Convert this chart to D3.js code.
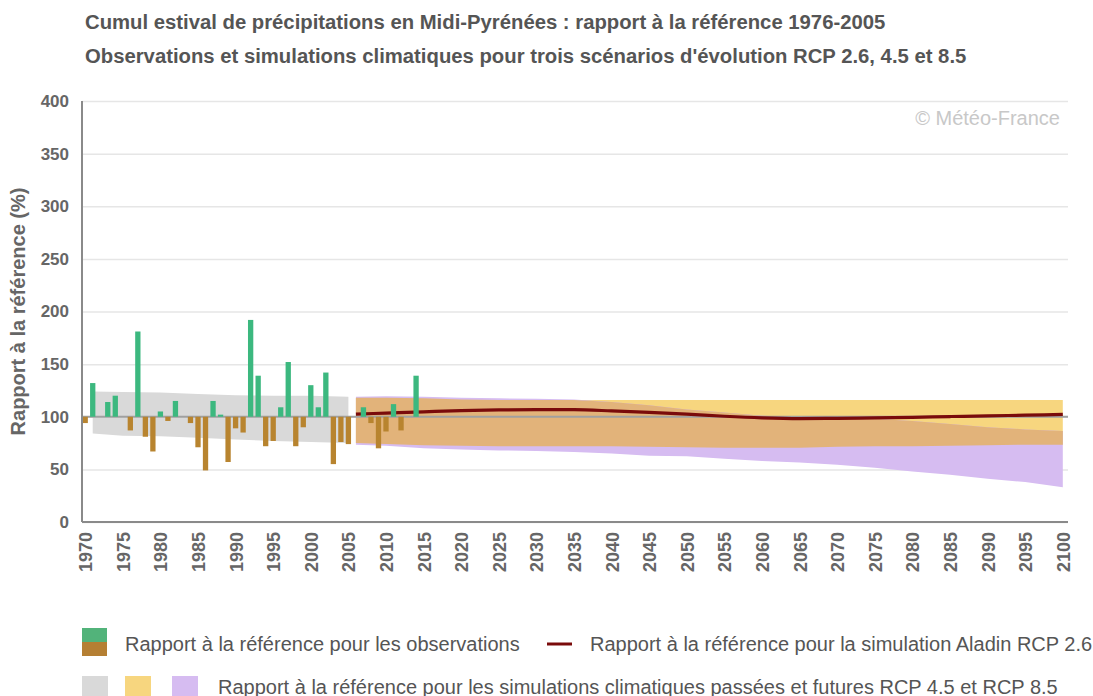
<!DOCTYPE html>
<html>
<head>
<meta charset="utf-8">
<script src="https://cdn.jsdelivr.net/npm/d3@7"></script>
<style>
  body { margin: 0; background: #fff; }
  svg { display: block; font-family: "Liberation Sans", Arial, sans-serif; }
</style>
</head>
<body>
<svg id="chart" width="1093" height="696"></svg>
<script>
// observed summer precipitation, ratio to 1976-2005 reference (%)
var obsYears = d3.range(1970, 2015);
var obsValues = [94, 132, 100, 114, 120, 100, 87, 181, 81, 67,
                 105, 96, 115, 100, 94, 71, 49, 115, 102, 57,
                 89, 85, 192, 139, 72, 77, 109, 152, 72, 90,
                 130, 109, 142, 55, 76, 74, 100, 109, 94, 70,
                 86, 112, 87, 100, 139];

// past simulations envelope
var pastYears = [1971, 1975, 1980, 1985, 1990, 1995, 2000, 2005];
var pastUpper = [124, 123.5, 123, 121.5, 120.5, 120, 120, 119];
var pastLower = [84, 82, 81.5, 80, 78.5, 77, 76, 75];

// future simulations
var futYears = [2006, 2010, 2015, 2020, 2025, 2030, 2035, 2040, 2045, 2050,
                2055, 2060, 2065, 2070, 2075, 2080, 2085, 2090, 2095, 2100];
var rcp45Upper = [118, 118, 117.5, 116.5, 116, 116, 116, 116, 116, 116,
                  116, 116, 116, 116, 116, 116, 116, 116, 116, 116];
var rcp45Lower = [75, 74, 73, 72.5, 72, 72, 72, 72, 71.5, 71,
                  70.5, 70.5, 70.5, 71.5, 72, 72, 72.5, 73, 73.5, 73.5];
var rcp85Upper = [119, 119.5, 119, 118, 117.5, 117, 116.5, 114, 111, 107,
                  104, 101, 99.5, 99, 98, 96, 93, 90, 88, 86.5];
var rcp85Lower = [73.5, 72.5, 70, 69, 68, 67.5, 66.5, 65, 63, 62.5,
                  60, 58, 56.5, 54.5, 51.5, 48, 45, 41, 38, 33];
var rcp26 = [102.5, 103.5, 104.7, 105.8, 106.5, 106.8, 106.7, 105.6, 104.2, 102.5,
             100.5, 99, 98.3, 98.5, 99, 99.5, 100.2, 100.8, 101.5, 102.2];

var yTicks = [0, 50, 100, 150, 200, 250, 300, 350, 400];
var xTicks = d3.range(1970, 2101, 5);

var svg = d3.select("#chart");
var plotL = 82, plotR = 1068, plotT = 101, plotB = 522;

var x = d3.scaleLinear().domain([1970, 2100]).range([85.2, 1062.8]);
var y = d3.scaleLinear().domain([0, 400]).range([plotB, plotT]);
var barW = 5.3;

svg.append("rect").attr("width", 1093).attr("height", 696).attr("fill", "#fff");

// titles
svg.append("text").attr("x", 85).attr("y", 29)
    .attr("font-size", 20.3).attr("font-weight", "bold").attr("fill", "#555")
    .text("Cumul estival de précipitations en Midi-Pyrénées : rapport à la référence 1976-2005");
svg.append("text").attr("x", 85).attr("y", 63)
    .attr("font-size", 20.3).attr("font-weight", "bold").attr("fill", "#555")
    .text("Observations et simulations climatiques pour trois scénarios d'évolution RCP 2.6, 4.5 et 8.5");

// y grid + labels
var yAxis = svg.append("g").attr("transform", "translate(" + plotL + ",0)")
    .call(d3.axisLeft(y).tickValues(yTicks).tickSize(-(plotR - plotL)).tickPadding(13));
yAxis.select(".domain").remove();
yAxis.selectAll("line").attr("stroke", "#e6e6e6").attr("stroke-width", 1.5);
yAxis.selectAll("text").attr("font-size", 17).attr("font-weight", "bold")
    .attr("fill", "#666").attr("font-family", "Liberation Sans, Arial, sans-serif");

svg.append("text")
    .attr("transform", "translate(18," + ((plotT + plotB) / 2) + ") rotate(-90)")
    .attr("text-anchor", "middle").attr("dominant-baseline", "central")
    .attr("font-size", 20).attr("font-weight", "bold").attr("fill", "#666")
    .text("Rapport à la référence (%)");

// watermark
svg.append("text").attr("x", 1060).attr("y", 125).attr("text-anchor", "end")
    .attr("font-size", 20).attr("fill", "#c8c8c8").text("© Météo-France");

// areas
function band(years, lo, hi) {
  return d3.area().x(function(d, i) { return x(years[i]); })
      .y0(function(d, i) { return y(lo[i]); })
      .y1(function(d, i) { return y(hi[i]); })(years);
}
svg.append("path").attr("d", band(pastYears, pastLower, pastUpper)).attr("fill", "#d9d9d9");
svg.append("path").attr("d", band(futYears, rcp45Lower, rcp45Upper)).attr("fill", "#f7d67f");
svg.append("path").attr("d", band(futYears, rcp85Lower, rcp85Upper)).attr("fill", "#d6bcf1");
var ovLo = futYears.map(function(d, i) { return Math.max(rcp45Lower[i], rcp85Lower[i]); });
var ovHi = futYears.map(function(d, i) { return Math.min(rcp45Upper[i], rcp85Upper[i]); });
svg.append("path").attr("d", band(futYears, ovLo, ovHi)).attr("fill", "#e2b37a");

// reference line at 100
svg.append("line").attr("x1", plotL).attr("x2", plotR).attr("y1", y(100)).attr("y2", y(100))
    .attr("stroke", "#a0a0a0").attr("stroke-width", 2);

// RCP 2.6 line
svg.append("path")
    .attr("d", d3.line().curve(d3.curveMonotoneX)
        .x(function(d, i) { return x(futYears[i]); })
        .y(function(d) { return y(d); })(rcp26))
    .attr("fill", "none").attr("stroke", "#7a0b0b").attr("stroke-width", 3.2);

// observation bars
svg.append("g").selectAll("rect").data(obsValues).enter().append("rect")
    .attr("x", function(d, i) { return x(obsYears[i]) - barW / 2; })
    .attr("width", barW)
    .attr("y", function(d) { return y(Math.max(d, 100)); })
    .attr("height", function(d) { return Math.abs(y(d) - y(100)); })
    .attr("fill", function(d) { return d >= 100 ? "#3cb87f" : "#b8842f"; });

// axis lines
svg.append("line").attr("x1", plotL).attr("x2", plotL).attr("y1", plotT).attr("y2", plotB)
    .attr("stroke", "#8a8a8a").attr("stroke-width", 2);
svg.append("line").attr("x1", plotL).attr("x2", plotR).attr("y1", plotB).attr("y2", plotB)
    .attr("stroke", "#8a8a8a").attr("stroke-width", 2);

// x labels
var xAxis = svg.append("g").attr("transform", "translate(0," + plotB + ")")
    .call(d3.axisBottom(x).tickValues(xTicks).tickSize(0).tickFormat(d3.format("d")));
xAxis.select(".domain").remove();
xAxis.selectAll("text")
    .attr("transform", "rotate(-90)")
    .attr("x", -10).attr("y", 0).attr("dy", "0.36em")
    .attr("text-anchor", "end")
    .attr("font-size", 18).attr("font-weight", "bold").attr("fill", "#666")
    .attr("font-family", "Liberation Sans, Arial, sans-serif");

// legend
var lg = svg.append("g").attr("font-size", 20).attr("fill", "#555");
lg.append("rect").attr("x", 82).attr("y", 628).attr("width", 25).attr("height", 14).attr("fill", "#52b37a");
lg.append("rect").attr("x", 82).attr("y", 642).attr("width", 25).attr("height", 14).attr("fill", "#b57f33");
lg.append("text").attr("x", 125).attr("y", 651).text("Rapport à la référence pour les observations");
lg.append("line").attr("x1", 547).attr("x2", 572).attr("y1", 644).attr("y2", 644)
    .attr("stroke", "#7a0b0b").attr("stroke-width", 3);
lg.append("text").attr("x", 590).attr("y", 651).text("Rapport à la référence pour la simulation Aladin RCP 2.6");
var sw = [["#d9d9d9", 82], ["#f7d67f", 125], ["#d6bcf1", 172]];
sw.forEach(function(s) {
  lg.append("rect").attr("x", s[1]).attr("y", 676).attr("width", 26).attr("height", 20).attr("fill", s[0]);
});
lg.append("text").attr("x", 218).attr("y", 694)
    .text("Rapport à la référence pour les simulations climatiques passées et futures RCP 4.5 et RCP 8.5");
</script>
</body>
</html>
